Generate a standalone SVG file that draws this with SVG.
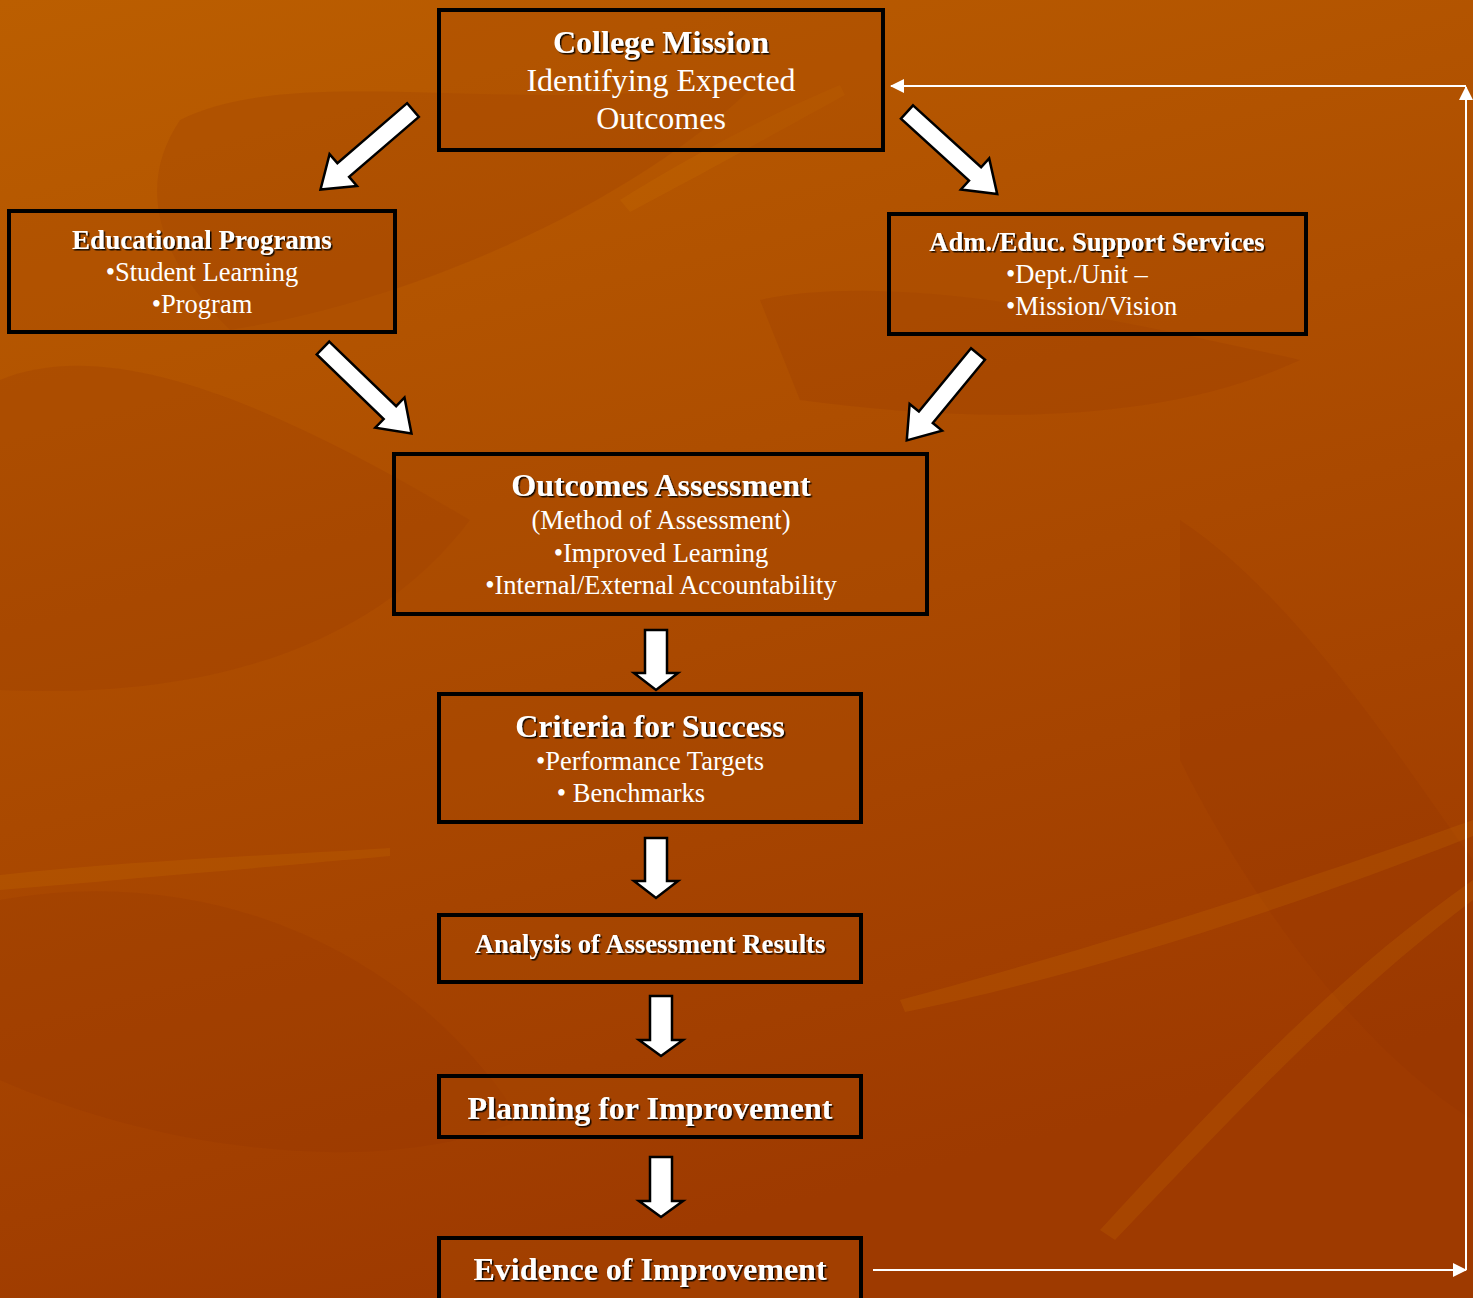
<svg xmlns="http://www.w3.org/2000/svg" width="1473" height="1298" viewBox="0 0 1473 1298">
<defs>
<linearGradient id="bg" x1="0" y1="0" x2="0.3" y2="1">
<stop offset="0" stop-color="#BB5E00"/>
<stop offset="0.45" stop-color="#AE4E00"/>
<stop offset="1" stop-color="#9E3A00"/>
</linearGradient>
<filter id="sh" x="-5%" y="-20%" width="110%" height="140%">
<feDropShadow dx="1.5" dy="1.5" stdDeviation="0.4" flood-color="#000" flood-opacity="0.9"/>
</filter>
<marker id="ah" viewBox="0 0 14 14" refX="13" refY="7" markerWidth="14" markerHeight="14" markerUnits="userSpaceOnUse" orient="auto">
<path d="M0,0 L14,7 L0,14 Z" fill="#fff"/>
</marker>
</defs>
<style>
.box{fill:#A94A00;fill-opacity:0.35;stroke:#000;stroke-width:4}
.t{font-family:"Liberation Serif","Times New Roman",serif;fill:#fff;text-anchor:middle}
.s{text-anchor:start}
.b{font-weight:bold;filter:url(#sh)}
.blk{fill:#fff;stroke:#000;stroke-width:2.5;stroke-linejoin:miter}
.loop{fill:none;stroke:#fff;stroke-width:2}
.leaf{fill:#8F3200;opacity:0.18}
.leaf2{fill:#D07A00;opacity:0.18}
</style>
<rect width="1473" height="1298" fill="url(#bg)"/>
<g id="background">
<path class="leaf" d="M180,120 C300,60 520,120 760,80 C640,200 420,300 230,330 C150,250 140,180 180,120 Z"/>
<path class="leaf" d="M0,380 C120,330 300,420 470,520 C380,640 220,700 0,690 Z"/>
<path class="leaf" d="M1180,520 C1300,600 1400,760 1473,860 L1473,1120 C1360,1050 1250,900 1180,760 Z"/>
<path class="leaf" d="M0,900 C220,860 420,960 520,1120 C380,1180 160,1150 0,1080 Z"/>
<path class="leaf" d="M760,300 C900,270 1120,320 1300,360 C1150,430 950,420 800,400 Z"/>
<path class="leaf2" d="M0,875 C140,860 280,855 390,848 L390,856 C280,866 140,878 0,890 Z"/>
<path class="leaf2" d="M900,1000 C1050,960 1250,900 1473,820 L1473,836 C1260,920 1060,980 905,1012 Z"/>
<path class="leaf2" d="M1100,1230 C1220,1100 1330,980 1473,880 L1473,900 C1340,1000 1230,1120 1115,1240 Z"/>
<path class="leaf2" d="M620,200 C700,150 780,110 840,85 L845,95 C790,125 710,170 630,212 Z"/>
</g>
<g id="connectors">
<path class="blk" transform="translate(413,110) rotate(139.3)" d="M0,-9 L92,-9 L92,-21 L122,0 L92,21 L92,9 L0,9 Z"/>
<path class="blk" transform="translate(907,112) rotate(42.3)" d="M0,-9 L92,-9 L92,-21 L122,0 L92,21 L92,9 L0,9 Z"/>
<path class="blk" transform="translate(323,348) rotate(44)" d="M0,-9 L93,-9 L93,-21 L123,0 L93,21 L93,9 L0,9 Z"/>
<path class="blk" transform="translate(978,354) rotate(129.5)" d="M0,-9 L82,-9 L82,-21 L112,0 L82,21 L82,9 L0,9 Z"/>
<path class="blk" d="M645,630 H667 V673 H678 L656,690 L634,673 H645 Z"/>
<path class="blk" d="M645,838 H667 V881 H678 L656,898 L634,881 H645 Z"/>
<path class="blk" d="M650,996 H672 V1040 H683 L661,1056 L639,1040 H650 Z"/>
<path class="blk" d="M650,1157 H672 V1201 H683 L661,1217 L639,1201 H650 Z"/>
<path class="loop" d="M873,1270 H1466" marker-end="url(#ah)"/>
<path class="loop" d="M1466,1270 V87" marker-end="url(#ah)"/>
<path class="loop" d="M1466,86 H891" marker-end="url(#ah)"/>
</g>
<g id="college-mission">
<rect class="box" x="439" y="10" width="444" height="140"/>
<text class="t b" x="661" y="53" font-size="32">College Mission</text>
<text class="t" x="661" y="91" font-size="32">Identifying Expected</text>
<text class="t" x="661" y="129" font-size="32">Outcomes</text>
</g>
<g id="educational-programs">
<rect class="box" x="9" y="211" width="386" height="121"/>
<text class="t b" x="202" y="249" font-size="27">Educational Programs</text>
<text class="t" x="202" y="281" font-size="26.5">•Student Learning</text>
<text class="t" x="202" y="313" font-size="26.5">•Program</text>
</g>
<g id="support-services">
<rect class="box" x="889" y="214" width="417" height="120"/>
<text class="t b" x="1097" y="251" font-size="26.6">Adm./Educ. Support Services</text>
<text class="t s" x="1006" y="283" font-size="26.5">•Dept./Unit –</text>
<text class="t s" x="1006" y="315" font-size="26.5">•Mission/Vision</text>
</g>
<g id="outcomes-assessment">
<rect class="box" x="394" y="454" width="533" height="160"/>
<text class="t b" x="661" y="496" font-size="32">Outcomes Assessment</text>
<text class="t" x="661" y="529" font-size="26.5">(Method of Assessment)</text>
<text class="t" x="661" y="562" font-size="26.5">•Improved Learning</text>
<text class="t" x="661" y="594" font-size="26.5">•Internal/External Accountability</text>
</g>
<g id="criteria-for-success">
<rect class="box" x="439" y="694" width="422" height="128"/>
<text class="t b" x="650" y="737" font-size="32">Criteria for Success</text>
<text class="t" x="650" y="770" font-size="26.5">•Performance Targets</text>
<text class="t" x="631" y="802" font-size="26.5">• Benchmarks</text>
</g>
<g id="analysis">
<rect class="box" x="439" y="915" width="422" height="67"/>
<text class="t b" x="650" y="953" font-size="26.7">Analysis of Assessment Results</text>
</g>
<g id="planning">
<rect class="box" x="439" y="1076" width="422" height="61"/>
<text class="t b" x="650" y="1119" font-size="32">Planning for Improvement</text>
</g>
<g id="evidence">
<rect class="box" x="439" y="1238" width="422" height="66"/>
<text class="t b" x="650" y="1280" font-size="32">Evidence of Improvement</text>
</g>
</svg>
